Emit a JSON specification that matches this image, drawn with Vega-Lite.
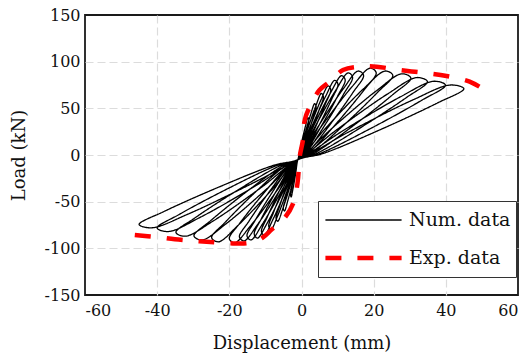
{
  "$schema": "https://vega.github.io/schema/vega-lite/v6.json",
  "width": 433,
  "height": 280,
  "autosize": {"type": "none"},
  "padding": {"left": 85, "top": 15, "right": 10, "bottom": 63},
  "background": "white",
  "config": {
    "view": {"stroke": "#1a1a1a", "strokeWidth": 1.8},
    "font": "DejaVu Serif",
    "axis": {
      "grid": true, "gridColor": "#dcdcdc", "gridDash": [8, 4], "gridWidth": 1.2,
      "ticks": false, "domain": false,
      "labelFont": "DejaVu Serif", "labelFontSize": 16, "labelColor": "#111111",
      "titleFont": "DejaVu Serif", "titleFontSize": 18, "titleFontWeight": "normal", "titleColor": "#111111"
    }
  },
  "data": {"values": [
    {"series":"Num. data","i":0,"x":-1,"y":-5},
    {"series":"Num. data","i":1,"x":-0.55,"y":-1.4},{"series":"Num. data","i":2,"x":0.5,"y":13},{"series":"Num. data","i":3,"x":1.55,"y":29.2},{"series":"Num. data","i":4,"x":2.03,"y":37.8},{"series":"Num. data","i":5,"x":1.79,"y":40},{"series":"Num. data","i":6,"x":1.1,"y":31},{"series":"Num. data","i":7,"x":-0.1,"y":11.2},{"series":"Num. data","i":8,"x":-1,"y":-5},
    {"series":"Num. data","i":9,"x":-1.3,"y":-8.2},{"series":"Num. data","i":10,"x":-2,"y":-21},{"series":"Num. data","i":11,"x":-2.7,"y":-35.4},{"series":"Num. data","i":12,"x":-3.02,"y":-43},{"series":"Num. data","i":13,"x":-2.86,"y":-45},{"series":"Num. data","i":14,"x":-2.4,"y":-37},{"series":"Num. data","i":15,"x":-1.6,"y":-19.4},{"series":"Num. data","i":16,"x":-1,"y":-5},
    {"series":"Num. data","i":17,"x":-0.25,"y":-0.2},{"series":"Num. data","i":18,"x":1.5,"y":19},{"series":"Num. data","i":19,"x":3.25,"y":40.6},{"series":"Num. data","i":20,"x":4.05,"y":52},{"series":"Num. data","i":21,"x":3.65,"y":55},{"series":"Num. data","i":22,"x":2.5,"y":43},{"series":"Num. data","i":23,"x":0.5,"y":16.6},{"series":"Num. data","i":24,"x":-1,"y":-5},
    {"series":"Num. data","i":25,"x":-1.6,"y":-9.4},{"series":"Num. data","i":26,"x":-3,"y":-27},{"series":"Num. data","i":27,"x":-4.4,"y":-46.8},{"series":"Num. data","i":28,"x":-5.04,"y":-57.3},{"series":"Num. data","i":29,"x":-4.72,"y":-60},{"series":"Num. data","i":30,"x":-3.8,"y":-49},{"series":"Num. data","i":31,"x":-2.2,"y":-24.8},{"series":"Num. data","i":32,"x":-1,"y":-5},
    {"series":"Num. data","i":33,"x":0.05,"y":0.7},{"series":"Num. data","i":34,"x":2.5,"y":23.4},{"series":"Num. data","i":35,"x":4.95,"y":49},{"series":"Num. data","i":36,"x":6.07,"y":62.5},{"series":"Num. data","i":37,"x":5.51,"y":66},{"series":"Num. data","i":38,"x":3.9,"y":51.8},{"series":"Num. data","i":39,"x":1.1,"y":20.6},{"series":"Num. data","i":40,"x":-1,"y":-5},
    {"series":"Num. data","i":41,"x":-1.9,"y":-10.3},{"series":"Num. data","i":42,"x":-4,"y":-31.4},{"series":"Num. data","i":43,"x":-6.1,"y":-55.2},{"series":"Num. data","i":44,"x":-7.06,"y":-67.7},{"series":"Num. data","i":45,"x":-6.58,"y":-71},{"series":"Num. data","i":46,"x":-5.2,"y":-57.8},{"series":"Num. data","i":47,"x":-2.8,"y":-28.8},{"series":"Num. data","i":48,"x":-1,"y":-5},
    {"series":"Num. data","i":49,"x":0.35,"y":1.3},{"series":"Num. data","i":50,"x":3.5,"y":26.6},{"series":"Num. data","i":51,"x":6.65,"y":55},{"series":"Num. data","i":52,"x":8.1,"y":70},{"series":"Num. data","i":53,"x":7.4,"y":74},{"series":"Num. data","i":54,"x":5.3,"y":58.2},{"series":"Num. data","i":55,"x":1.7,"y":23.4},{"series":"Num. data","i":56,"x":-1,"y":-5},
    {"series":"Num. data","i":57,"x":-2.2,"y":-11},{"series":"Num. data","i":58,"x":-5,"y":-35},{"series":"Num. data","i":59,"x":-7.8,"y":-62},{"series":"Num. data","i":60,"x":-9.08,"y":-76.3},{"series":"Num. data","i":61,"x":-8.44,"y":-80},{"series":"Num. data","i":62,"x":-6.6,"y":-65},{"series":"Num. data","i":63,"x":-3.4,"y":-32},{"series":"Num. data","i":64,"x":-1,"y":-5},
    {"series":"Num. data","i":65,"x":0.65,"y":1.8},{"series":"Num. data","i":66,"x":4.5,"y":29},{"series":"Num. data","i":67,"x":8.35,"y":59.6},{"series":"Num. data","i":68,"x":10.1,"y":75.8},{"series":"Num. data","i":69,"x":9.2,"y":80},{"series":"Num. data","i":70,"x":6.7,"y":63},{"series":"Num. data","i":71,"x":2.3,"y":25.6},{"series":"Num. data","i":72,"x":-1,"y":-5},
    {"series":"Num. data","i":73,"x":-2.5,"y":-11.5},{"series":"Num. data","i":74,"x":-6,"y":-37.4},{"series":"Num. data","i":75,"x":-9.5,"y":-66.6},{"series":"Num. data","i":76,"x":-11.1,"y":-82},{"series":"Num. data","i":77,"x":-10.3,"y":-86},{"series":"Num. data","i":78,"x":-8,"y":-69.8},{"series":"Num. data","i":79,"x":-4,"y":-34.2},{"series":"Num. data","i":80,"x":-1,"y":-5},
    {"series":"Num. data","i":81,"x":0.95,"y":2.2},{"series":"Num. data","i":82,"x":5.5,"y":31},{"series":"Num. data","i":83,"x":10.05,"y":63.4},{"series":"Num. data","i":84,"x":12.1,"y":80.5},{"series":"Num. data","i":85,"x":11.1,"y":85},{"series":"Num. data","i":86,"x":8.1,"y":67},{"series":"Num. data","i":87,"x":2.9,"y":27.4},{"series":"Num. data","i":88,"x":-1,"y":-5},
    {"series":"Num. data","i":89,"x":-2.8,"y":-11.7},{"series":"Num. data","i":90,"x":-7,"y":-38.6},{"series":"Num. data","i":91,"x":-11.2,"y":-68.8},{"series":"Num. data","i":92,"x":-13.1,"y":-84.8},{"series":"Num. data","i":93,"x":-12.2,"y":-89},{"series":"Num. data","i":94,"x":-9.4,"y":-72.2},{"series":"Num. data","i":95,"x":-4.6,"y":-35.2},{"series":"Num. data","i":96,"x":-1,"y":-5},
    {"series":"Num. data","i":97,"x":1.25,"y":2.4},{"series":"Num. data","i":98,"x":6.5,"y":32.2},{"series":"Num. data","i":99,"x":11.75,"y":65.7},{"series":"Num. data","i":100,"x":14.15,"y":83.4},{"series":"Num. data","i":101,"x":12.95,"y":88},{"series":"Num. data","i":102,"x":9.5,"y":69.4},{"series":"Num. data","i":103,"x":3.5,"y":28.5},{"series":"Num. data","i":104,"x":-1,"y":-5},
    {"series":"Num. data","i":105,"x":-3.1,"y":-11.9},{"series":"Num. data","i":106,"x":-8,"y":-39.4},{"series":"Num. data","i":107,"x":-12.9,"y":-70.4},{"series":"Num. data","i":108,"x":-15.1,"y":-86.7},{"series":"Num. data","i":109,"x":-14,"y":-91},{"series":"Num. data","i":110,"x":-10.8,"y":-73.8},{"series":"Num. data","i":111,"x":-5.2,"y":-36},{"series":"Num. data","i":112,"x":-1,"y":-5},
    {"series":"Num. data","i":113,"x":1.7,"y":2.6},{"series":"Num. data","i":114,"x":8,"y":33},{"series":"Num. data","i":115,"x":14.3,"y":67.2},{"series":"Num. data","i":116,"x":17.2,"y":85.3},{"series":"Num. data","i":117,"x":15.7,"y":90},{"series":"Num. data","i":118,"x":11.6,"y":71},{"series":"Num. data","i":119,"x":4.4,"y":29.2},{"series":"Num. data","i":120,"x":-1,"y":-5},
    {"series":"Num. data","i":121,"x":-3.4,"y":-12},{"series":"Num. data","i":122,"x":-9,"y":-39.8},{"series":"Num. data","i":123,"x":-14.6,"y":-71.1},{"series":"Num. data","i":124,"x":-17.2,"y":-87.7},{"series":"Num. data","i":125,"x":-15.9,"y":-92},{"series":"Num. data","i":126,"x":-12.2,"y":-74.6},{"series":"Num. data","i":127,"x":-5.8,"y":-36.3},{"series":"Num. data","i":128,"x":-1,"y":-5},
    {"series":"Num. data","i":129,"x":2.2,"y":2.8},{"series":"Num. data","i":130,"x":9.75,"y":34.2},{"series":"Num. data","i":131,"x":17.3,"y":69.5},{"series":"Num. data","i":132,"x":20.7,"y":88.1},{"series":"Num. data","i":133,"x":19,"y":93},{"series":"Num. data","i":134,"x":14.05,"y":73.4},{"series":"Num. data","i":135,"x":5.45,"y":30.3},{"series":"Num. data","i":136,"x":-1,"y":-5},
    {"series":"Num. data","i":137,"x":-3.8,"y":-12.1},{"series":"Num. data","i":138,"x":-10.4,"y":-40.6},{"series":"Num. data","i":139,"x":-17,"y":-72.6},{"series":"Num. data","i":140,"x":-20,"y":-89.6},{"series":"Num. data","i":141,"x":-18.5,"y":-94},{"series":"Num. data","i":142,"x":-14.2,"y":-76.2},{"series":"Num. data","i":143,"x":-6.6,"y":-37},{"series":"Num. data","i":144,"x":-1,"y":-5},
    {"series":"Num. data","i":145,"x":2.9,"y":2.6},{"series":"Num. data","i":146,"x":12,"y":33},{"series":"Num. data","i":147,"x":21.1,"y":67.2},{"series":"Num. data","i":148,"x":25.3,"y":85.3},{"series":"Num. data","i":149,"x":23.2,"y":90},{"series":"Num. data","i":150,"x":17.2,"y":71},{"series":"Num. data","i":151,"x":6.8,"y":29.2},{"series":"Num. data","i":152,"x":-1,"y":-5},
    {"series":"Num. data","i":153,"x":-4.6,"y":-12},{"series":"Num. data","i":154,"x":-12.9,"y":-40.2},{"series":"Num. data","i":155,"x":-21.1,"y":-71.9},{"series":"Num. data","i":156,"x":-24.9,"y":-88.6},{"series":"Num. data","i":157,"x":-23,"y":-93},{"series":"Num. data","i":158,"x":-17.6,"y":-75.4},{"series":"Num. data","i":159,"x":-8.1,"y":-36.7},{"series":"Num. data","i":160,"x":-1,"y":-5},
    {"series":"Num. data","i":161,"x":3.65,"y":2.4},{"series":"Num. data","i":162,"x":14.5,"y":31.8},{"series":"Num. data","i":163,"x":25.35,"y":64.9},{"series":"Num. data","i":164,"x":30.3,"y":82.4},{"series":"Num. data","i":165,"x":27.8,"y":87},{"series":"Num. data","i":166,"x":20.7,"y":68.6},{"series":"Num. data","i":167,"x":8.3,"y":28.1},{"series":"Num. data","i":168,"x":-1,"y":-5},
    {"series":"Num. data","i":169,"x":-5.3,"y":-11.9},{"series":"Num. data","i":170,"x":-15.25,"y":-39.4},{"series":"Num. data","i":171,"x":-25.2,"y":-70.4},{"series":"Num. data","i":172,"x":-29.8,"y":-86.7},{"series":"Num. data","i":173,"x":-27.5,"y":-91},{"series":"Num. data","i":174,"x":-20.95,"y":-73.8},{"series":"Num. data","i":175,"x":-9.55,"y":-36},{"series":"Num. data","i":176,"x":-1,"y":-5},
    {"series":"Num. data","i":177,"x":4.3,"y":2},{"series":"Num. data","i":178,"x":16.75,"y":30.2},{"series":"Num. data","i":179,"x":29.2,"y":61.9},{"series":"Num. data","i":180,"x":34.9,"y":78.6},{"series":"Num. data","i":181,"x":32,"y":83},{"series":"Num. data","i":182,"x":23.85,"y":65.4},{"series":"Num. data","i":183,"x":9.65,"y":26.7},{"series":"Num. data","i":184,"x":-1,"y":-5},
    {"series":"Num. data","i":185,"x":-6,"y":-11.6},{"series":"Num. data","i":186,"x":-17.75,"y":-37.8},{"series":"Num. data","i":187,"x":-29.5,"y":-67.3},{"series":"Num. data","i":188,"x":-34.8,"y":-82.9},{"series":"Num. data","i":189,"x":-32.2,"y":-87},{"series":"Num. data","i":190,"x":-24.45,"y":-70.6},{"series":"Num. data","i":191,"x":-11.05,"y":-34.5},{"series":"Num. data","i":192,"x":-1,"y":-5},
    {"series":"Num. data","i":193,"x":5.1,"y":1.7},{"series":"Num. data","i":194,"x":19.25,"y":28.6},{"series":"Num. data","i":195,"x":33.4,"y":58.8},{"series":"Num. data","i":196,"x":39.9,"y":74.8},{"series":"Num. data","i":197,"x":36.7,"y":79},{"series":"Num. data","i":198,"x":27.35,"y":62.2},{"series":"Num. data","i":199,"x":11.15,"y":25.2},{"series":"Num. data","i":200,"x":-1,"y":-5},
    {"series":"Num. data","i":201,"x":-6.8,"y":-11.2},{"series":"Num. data","i":202,"x":-20.3,"y":-35.8},{"series":"Num. data","i":203,"x":-33.8,"y":-63.5},{"series":"Num. data","i":204,"x":-40,"y":-78.2},{"series":"Num. data","i":205,"x":-36.9,"y":-82},{"series":"Num. data","i":206,"x":-28,"y":-66.6},{"series":"Num. data","i":207,"x":-12.6,"y":-32.7},{"series":"Num. data","i":208,"x":-1,"y":-5},
    {"series":"Num. data","i":209,"x":5.8,"y":1.4},{"series":"Num. data","i":210,"x":21.75,"y":27},{"series":"Num. data","i":211,"x":37.7,"y":55.8},{"series":"Num. data","i":212,"x":45,"y":71},{"series":"Num. data","i":213,"x":41.3,"y":75},{"series":"Num. data","i":214,"x":30.85,"y":59},{"series":"Num. data","i":215,"x":12.65,"y":23.8},{"series":"Num. data","i":216,"x":-1,"y":-5},
    {"series":"Num. data","i":217,"x":-7.5,"y":-10.8},{"series":"Num. data","i":218,"x":-22.8,"y":-34.2},{"series":"Num. data","i":219,"x":-38.1,"y":-60.5},{"series":"Num. data","i":220,"x":-45,"y":-74.4},{"series":"Num. data","i":221,"x":-41.5,"y":-78},{"series":"Num. data","i":222,"x":-31.5,"y":-63.4},{"series":"Num. data","i":223,"x":-14.1,"y":-31.3},{"series":"Num. data","i":224,"x":-1,"y":-5},
    {"series":"Exp. data","i":0,"x":-46.2,"y":-85.7},{"series":"Exp. data","i":1,"x":-40,"y":-88},{"series":"Exp. data","i":2,"x":-35.1,"y":-90.3},{"series":"Exp. data","i":3,"x":-30,"y":-92},{"series":"Exp. data","i":4,"x":-26.3,"y":-93},{"series":"Exp. data","i":5,"x":-19.9,"y":-94.6},{"series":"Exp. data","i":6,"x":-15.2,"y":-94.6},{"series":"Exp. data","i":7,"x":-12.5,"y":-92},{"series":"Exp. data","i":8,"x":-10.6,"y":-88},{"series":"Exp. data","i":9,"x":-8.3,"y":-80},{"series":"Exp. data","i":10,"x":-5.1,"y":-69.6},{"series":"Exp. data","i":11,"x":-2.3,"y":-51.8},{"series":"Exp. data","i":12,"x":-1.1,"y":-30},{"series":"Exp. data","i":13,"x":-0.5,"y":-1.8},{"series":"Exp. data","i":14,"x":0.4,"y":16},{"series":"Exp. data","i":15,"x":0.9,"y":37.5},{"series":"Exp. data","i":16,"x":2.3,"y":51.8},{"series":"Exp. data","i":17,"x":5,"y":69.6},{"series":"Exp. data","i":18,"x":7.8,"y":78.6},{"series":"Exp. data","i":19,"x":11.5,"y":91},{"series":"Exp. data","i":20,"x":16.1,"y":94.6},{"series":"Exp. data","i":21,"x":20.8,"y":94.6},{"series":"Exp. data","i":22,"x":27.2,"y":91},{"series":"Exp. data","i":23,"x":33.7,"y":88.2},{"series":"Exp. data","i":24,"x":40.2,"y":84.6},{"series":"Exp. data","i":25,"x":46.6,"y":78.6},{"series":"Exp. data","i":26,"x":50.8,"y":69.6}
  ]},
  "encoding": {
    "x": {"field": "x", "type": "quantitative", "scale": {"domain": [-60, 60], "nice": false},
      "axis": {"values": [-60, -40, -20, 0, 20, 40, 60], "title": "Displacement (mm)", "labelExpr": "toString(datum.value)", "labelPadding": 7, "titlePadding": 16,
        "gridOpacity": {"condition": {"test": "abs(datum.value) == 60", "value": 0}, "value": 1}}},
    "y": {"field": "y", "type": "quantitative", "scale": {"domain": [-150, 150], "nice": false},
      "axis": {"values": [-150, -100, -50, 0, 50, 100, 150], "title": "Load (kN)", "labelExpr": "toString(datum.value)", "labelPadding": 5, "titlePadding": 16,
        "gridOpacity": {"condition": {"test": "abs(datum.value) == 150", "value": 0}, "value": 1}}},
    "color": {"field": "series", "type": "nominal", "scale": {"domain": ["Num. data", "Exp. data"], "range": ["#000000", "#ff0000"]},
      "legend": {"title": null, "orient": "none", "legendX": 233, "legendY": 186, "symbolType": "stroke", "symbolSize": 5800, "clipHeight": 28, "rowPadding": 10, "padding": 5, "labelFont": "DejaVu Serif", "labelFontSize": 19, "labelColor": "#111111", "labelOffset": 5, "strokeColor": "#333333", "fillColor": "white"}},
    "strokeDash": {"field": "series", "type": "nominal", "scale": {"domain": ["Num. data", "Exp. data"], "range": [[1, 0], [16, 16]]}},
    "strokeWidth": {"field": "series", "type": "nominal", "scale": {"domain": ["Num. data", "Exp. data"], "range": [1.3, 4.5]}},
    "order": {"field": "i", "type": "quantitative"}
  },
  "layer": [
    {"transform": [{"filter": "datum.series == 'Num. data'"}], "mark": {"type": "line", "interpolate": "catmull-rom"}},
    {"transform": [{"filter": "datum.series == 'Exp. data'"}], "mark": {"type": "line", "interpolate": "catmull-rom"}}
  ]
}
